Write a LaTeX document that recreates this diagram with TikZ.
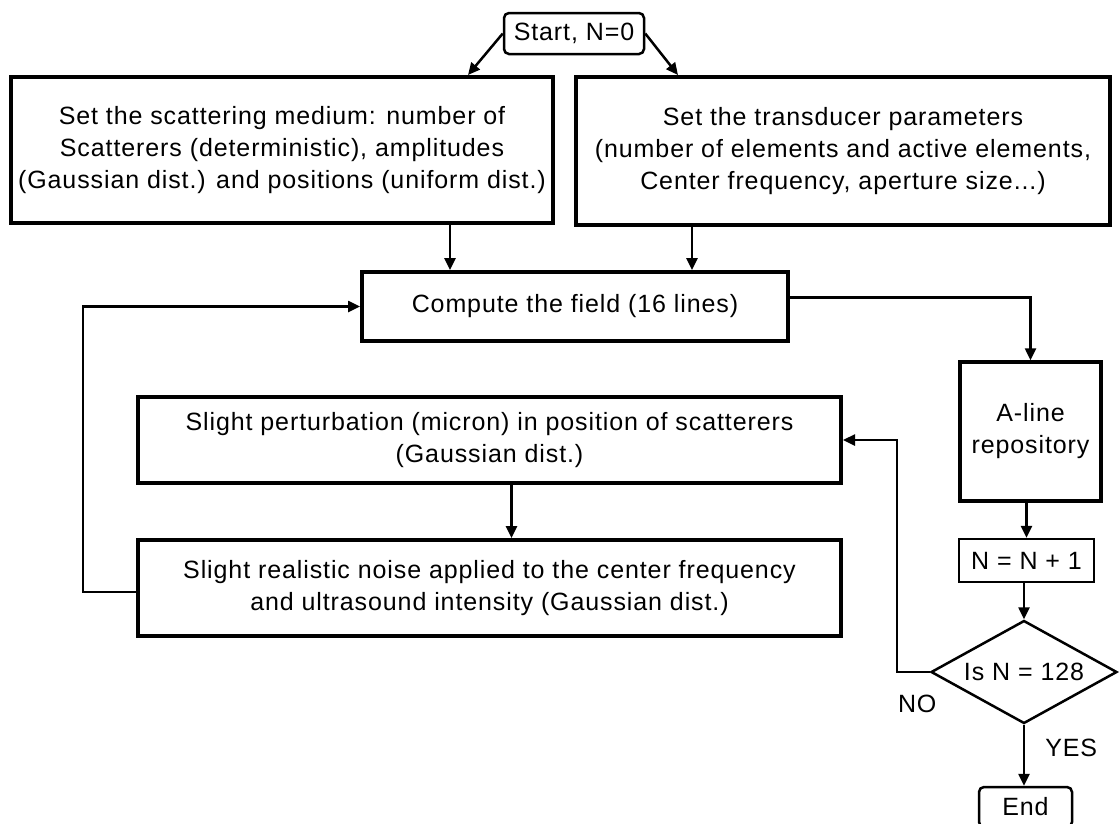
\documentclass[tikz,border=0pt]{standalone}
\usepackage{fontspec}
\setmainfont{Liberation Sans}[LetterSpace=3.6]
\usetikzlibrary{arrows.meta}
\usetikzlibrary{shapes.geometric}

\begin{document}
\begin{tikzpicture}[x=1pt, y=-1pt,
			every node/.style={font=\fontsize{25}{32}\selectfont, align=center, inner sep=0pt},
			box/.style={draw, line width=4pt},
			thinbox/.style={draw, line width=2.3pt},
			roundbox/.style={draw, line width=2.5pt, rounded corners=5pt},
			arr/.style={-{Triangle[length=12pt, width=11pt]}, line width=2.5pt}
		]
			\useasboundingbox (0,0) rectangle (1119,823);
			\clip (0,0) rectangle (1119,823);

			\node[roundbox, minimum width=140, minimum height=41] (start) at (574,33.5) {Start, N=0};

			\node[box, minimum width=542, minimum height=146] (medium) at (282,150) {%
				Set the scattering medium: number of\\
				Scatterers (deterministic), amplitudes\\
				(Gaussian dist.) and positions (uniform dist.)};
			\node[box, minimum width=534, minimum height=148] (transducer) at (843,151) {%
				Set the transducer parameters\\
				(number of elements and active elements,\\
				Center frequency, aperture size...)};

			\node[box, minimum width=426, minimum height=69] (field) at (575,306.5) {Compute the field (16 lines)};

			\node[box, minimum width=703, minimum height=86] (perturb) at (489.5,440) {%
				Slight perturbation (micron) in position of scatterers\\
				(Gaussian dist.)};
			\node[box, minimum width=703, minimum height=96] (noise) at (489.5,588) {%
				Slight realistic noise applied to the center frequency\\
				and ultrasound intensity (Gaussian dist.)};

			\node[box, line width=3.5pt, minimum width=141, minimum height=139] (aline) at (1030.5,431.5) {A-line\\repository};
			\node[thinbox, minimum width=135, minimum height=43] (count) at (1026.5,560.5) {N = N + 1};
			\node[draw, diamond, line width=2.5pt, aspect=1.8, minimum width=186, minimum height=103] (check) at (1024,672) {Is N = 128};
			\node[roundbox, minimum width=93, minimum height=40] (end) at (1025.5,807) {End};

			\coordinate (inL) at ([xshift=-125pt]field.north);
			\coordinate (inR) at ([xshift=117pt]field.north);

			\draw[arr] (start.west) -- ([xshift=459pt]medium.north west);
			\draw[arr] (start.east) -- ([xshift=104pt]transducer.north west);
			\draw[arr] (medium.south -| inL) -- (inL);
			\draw[arr] (transducer.south -| inR) -- (inR);
			\draw[arr] ([yshift=9pt]field.east) -| (aline.north);
			\draw[arr] (aline.south -| count.north) -- (count.north);
			\draw[arr] (count.south -| check.north) -- (check.north);
			\draw[arr] (check.south) -- node[pos=.38, right=20pt] {YES} (check.south |- end.north);
			\draw[arr] (check.west) -- node[below=22pt, xshift=4pt] {NO} ++(-33,0) |- (perturb.east);
			\draw[arr] ([xshift=22pt]perturb.south) -- ([xshift=22pt]noise.north);
			\draw[arr] ([yshift=-4pt]noise.west) -- ++(-53,0) |- (field.west);
		\end{tikzpicture}
\end{document}
